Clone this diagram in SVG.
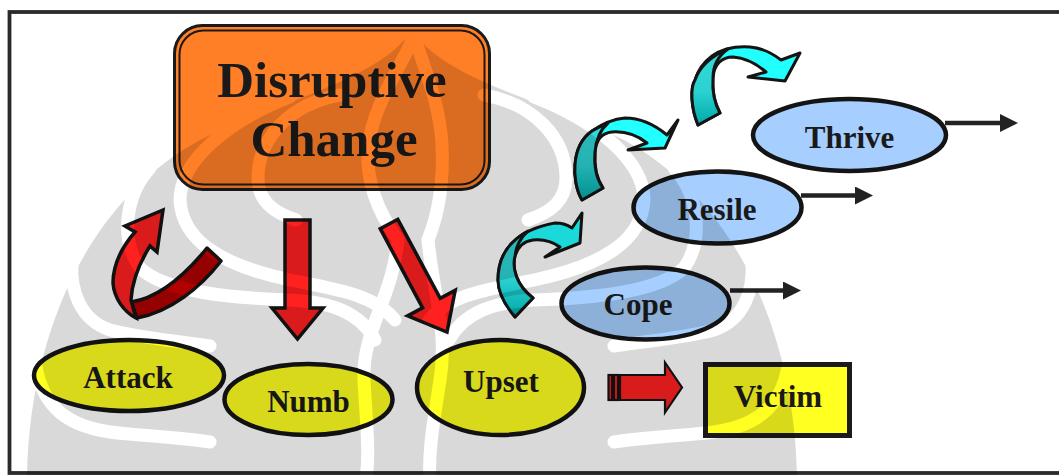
<svg xmlns="http://www.w3.org/2000/svg" width="1059" height="475" viewBox="0 0 1059 475">
<style>
.lbl{font-family:"Liberation Serif","Times New Roman",serif;font-weight:bold;font-size:31px;fill:#1a1a1a;text-anchor:middle}
.big{font-size:51px}
.ell{stroke:#141414;stroke-width:4.5}
.y{fill:#FFFF22}
.b{fill:#A6CFFF}
.red{fill:#FF2020;stroke:#141414;stroke-width:3.5;stroke-linejoin:miter}
.dred{fill:#B00000;stroke:#141414;stroke-width:3.5;stroke-linejoin:round}
.cy{fill:#22FFFF;stroke:#141414;stroke-width:3;stroke-linejoin:round}
.tail{fill:url(#teal);stroke:#141414;stroke-width:3;stroke-linejoin:round}
.ln{stroke:#222;stroke-width:4.5;fill:none;marker-end:url(#ah)}
.band{fill:none;stroke:#000;stroke-width:13;stroke-linecap:round}
</style>
<defs>
<marker id="ah" viewBox="0 0 18 18" markerWidth="18" markerHeight="18" refX="0" refY="9" orient="auto" markerUnits="userSpaceOnUse">
<path d="M0,0 L18,9 L0,18 Z" fill="#222"/>
</marker>
<linearGradient id="teal" x1="0" y1="0" x2="0" y2="1">
<stop offset="0" stop-color="#33DADA"/>
<stop offset="0.55" stop-color="#2CD2D2"/>
<stop offset="1" stop-color="#00A8A8"/>
</linearGradient>
<mask id="wm" maskUnits="userSpaceOnUse" x="0" y="0" width="1059" height="475">
<path d="M27 475 C30 330 90 200 200 140 C280 100 380 80 412 30 C444 80 544 100 624 140 C734 200 794 330 797 475 Z" fill="#fff"/>
<g class="band">
<path d="M290 97 C230 120 180 160 180 200 C182 240 220 265 290 280 C340 290 375 295 395 320"/>
<path d="M534 97 C594 120 644 160 644 200 C642 240 604 265 534 280 C484 290 449 295 429 320"/>
<path d="M340 95 C290 104 258 138 258 178 C258 200 272 212 296 220"/>
<path d="M484 95 C534 104 566 138 566 178 C566 200 552 212 528 220"/>
<path d="M150 168 C125 195 120 240 140 268 C165 292 230 298 290 300 C330 302 360 312 375 340"/>
<path d="M674 168 C699 195 704 240 684 268 C659 292 594 298 534 300 C494 302 464 312 449 340"/>
<path d="M72 262 C70 290 80 320 110 330 C140 338 170 340 210 346"/>
<path d="M752 262 C754 290 744 320 714 330 C684 338 654 340 614 346"/>
<path d="M35 360 C40 400 60 425 110 432 C140 436 170 436 210 442"/>
<path d="M789 360 C784 400 764 425 714 432 C684 436 654 436 614 442"/>
<path d="M414 36 C400 70 372 105 368 150 C366 185 380 215 398 240"/>
<path d="M414 36 C425 70 440 105 442 145 C444 185 438 215 428 240"/>
<path d="M398 240 C392 300 362 330 364 380 C366 420 370 450 366 480"/>
<path d="M428 240 C434 300 448 330 440 380 C434 420 428 450 430 480"/>
</g>
</mask>
</defs>

<rect width="1059" height="475" fill="#fff"/>
<rect id="frame" x="9.5" y="12" width="1060" height="461" fill="none" stroke="#2a2a2a" stroke-width="3.8"/>

<g id="connectors">
<path class="red" d="M285 220 L310 220 L310 308 L323 308 L297.5 339 L272 308 L285 308 Z"/>
<path class="red" d="M397.8 219.3 L440.2 298.4 L455.2 290.3 L447 332 L407.6 315.9 L422.6 307.8 L380.2 228.7 Z"/>
<path class="dred" d="M131 302 C158 298 185 275 207 248 L221 261 C200 288 170 312 137 318 Z"/>
<path class="red" stroke-linejoin="round" d="M163 210 L157 252 L150 246 C140 262 132 282 131 300 L136 318 C124 312 114 298 113 283 C113 265 122 247 135 232 L125 226 Z"/>
<g stroke="#141414" stroke-width="2.2" fill="#FF2020">
<rect x="608.5" y="375" width="3.5" height="25"/>
<rect x="614" y="375" width="4" height="25"/>
<path d="M620 375 L665 375 L665 362.5 L682 387.5 L665 412.5 L665 400 L620 400 Z"/>
</g>
<path class="cy" d="M515 317 C505 305 498 292 498 280 C498 265 503 252 512 243 C522 233 538 226 555 223 C563 223 568 225 572 228 L582 213 L580 243 L545 257 L560 247 C553 242 543 239 533 240 C525 241 518 246 515 256 C512 268 516 285 533 298 Z"/>
<path class="tail" d="M515 317 C505 305 498 292 498 280 C498 265 503 252 512 243 C517 238 522 234 528 231 C520 238 516 246 515 256 C512 268 516 285 533 298 Z"/>
<path class="cy" d="M582 200 C576 190 574 175 575 165 C576 150 582 138 592 131 C602 124 613 119 625 118 C640 118 655 125 667 135 L678 120 L665 148 L628 150 L647 143 C638 136 625 131 612 132 C602 133 596 140 595 152 C594 165 596 178 603 188 Z"/>
<path class="tail" d="M582 200 C576 190 574 175 575 165 C576 150 582 138 592 131 C597 128 603 125 608 123 C600 130 596 140 595 152 C594 165 596 178 603 188 Z"/>
<path class="cy" d="M698 125 C691 108 690 88 695 80 C698 70 704 62 712 56 C722 49 735 46 750 47 C762 48 772 53 781 60 L800 53 L785 81 L748 77 L766 72 C758 65 746 58 733 57 C722 57 714 64 713 78 C712 92 715 104 720 113 Z"/>
<path class="tail" d="M698 125 C691 108 690 88 695 80 C699 68 710 56 728 49 C718 56 713 66 713 78 C712 92 715 104 720 113 Z"/>
<line class="ln" x1="730" y1="290.5" x2="783" y2="290.5"/>
<line class="ln" x1="801" y1="195.5" x2="855" y2="195.5"/>
<line class="ln" x1="945" y1="123" x2="1000" y2="123"/>
</g>

<g id="node-disruptive">
<rect x="174.5" y="25.5" width="315" height="164" rx="28" fill="#FF7F27" stroke="#1a1a1a" stroke-width="3"/>
<rect x="179.5" y="30.5" width="305" height="154" rx="24" fill="none" stroke="#1a1a1a" stroke-width="2"/>
<text class="lbl big" x="332" y="97">Disruptive</text>
<text class="lbl big" x="334" y="156">Change</text>
</g>
<g id="node-attack">
<ellipse class="ell y" cx="129" cy="375.5" rx="95" ry="35.5"/>
<text class="lbl" x="128" y="388">Attack</text>
</g>
<g id="node-numb">
<ellipse class="ell y" cx="308.5" cy="399.5" rx="84" ry="35.5"/>
<text class="lbl" x="308.5" y="412">Numb</text>
</g>
<g id="node-upset">
<ellipse class="ell y" cx="500.5" cy="387.5" rx="83.5" ry="47.5"/>
<text class="lbl" x="501" y="392">Upset</text>
</g>
<g id="node-victim">
<rect x="705.5" y="364.5" width="144" height="71" fill="#FFFF22" stroke="#1a1a1a" stroke-width="5"/>
<text class="lbl" x="778" y="407">Victim</text>
</g>
<g id="node-cope">
<ellipse class="ell b" cx="645.5" cy="303.5" rx="84" ry="36"/>
<text class="lbl" x="638" y="315">Cope</text>
</g>
<g id="node-resile">
<ellipse class="ell b" cx="717.5" cy="207.5" rx="84" ry="36"/>
<text class="lbl" x="717" y="220">Resile</text>
</g>
<g id="node-thrive">
<ellipse class="ell b" cx="849.5" cy="135" rx="96.5" ry="36"/>
<text class="lbl" x="849.5" y="148">Thrive</text>
</g>

<g id="watermark" pointer-events="none">
<rect x="0" y="0" width="1059" height="475" fill="#000" fill-opacity="0.15" mask="url(#wm)"/>
</g>
</svg>
